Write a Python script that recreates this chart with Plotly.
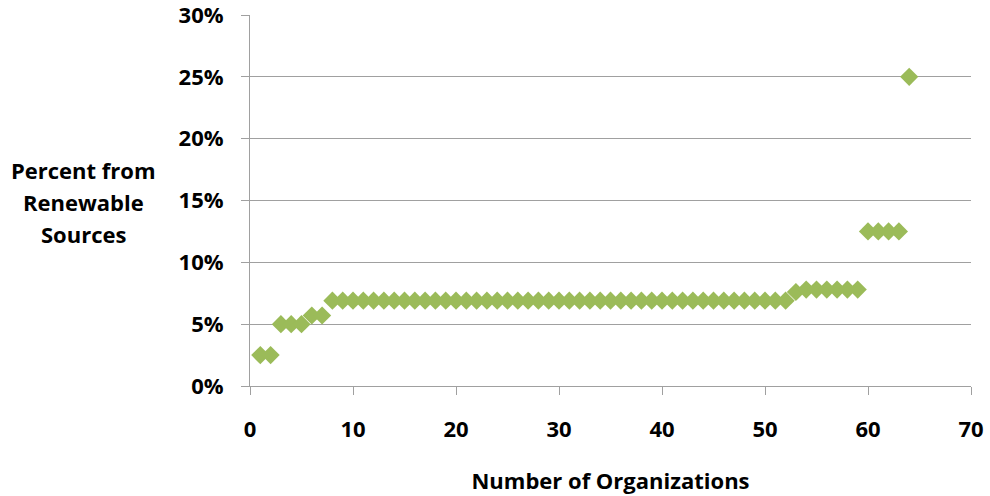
import plotly.graph_objects as go

organizations = list(range(1, 65))
percent_renewable = (
    [0.025, 0.025]
    + [0.05, 0.05, 0.05]
    + [0.057, 0.057]
    + [0.069] * 45
    + [0.076]
    + [0.078] * 6
    + [0.125] * 4
    + [0.25]
)
y_tick_vals = [0, 0.05, 0.10, 0.15, 0.20, 0.25, 0.30]
x_tick_vals = [0, 10, 20, 30, 40, 50, 60, 70]
y_title_lines = ["Percent from", "Renewable", "Sources"]
x_title = "Number of Organizations"

FONT = "Open Sans"
FS = 22
GRID = "#A0A0A0"

fig = go.Figure()
fig.add_trace(go.Scatter(
    x=organizations, y=percent_renewable, mode="markers",
    marker=dict(symbol="diamond", size=14, color="#9BBB59", line=dict(width=0)),
    showlegend=False, hoverinfo="skip", cliponaxis=False,
))

fig.update_layout(
    width=990, height=496,
    margin=dict(l=250, r=19, t=15, b=110),
    paper_bgcolor="white", plot_bgcolor="white",
    font=dict(family=FONT, size=FS, color="#000000"),
    xaxis=dict(
        range=[0, 70], tickvals=x_tick_vals, showgrid=False, zeroline=False,
        showline=True, linecolor=GRID, linewidth=1, automargin=False,
        ticks="outside", ticklen=8, tickcolor=GRID, tickwidth=1,
        ticklabelstandoff=16, ticklabeloverflow="allow",
        tickfont=dict(family=FONT, size=FS, weight="bold"),
        title=dict(text=x_title, font=dict(family=FONT, size=FS, weight="bold"), standoff=31),
    ),
    yaxis=dict(
        range=[0, 0.30], tickvals=y_tick_vals, tickformat=".0%",
        showgrid=True, gridcolor=GRID, gridwidth=1, zeroline=False,
        showline=True, linecolor=GRID, linewidth=1, automargin=False,
        ticks="outside", ticklen=8, tickcolor=GRID, tickwidth=1,
        ticklabelstandoff=13, ticklabeloverflow="allow",
        tickfont=dict(family=FONT, size=FS, weight="bold"),
    ),
)

line_y = [170, 202, 234]
for txt, py in zip(y_title_lines, line_y):
    fig.add_annotation(
        text=txt, xref="paper", yref="paper",
        x=(83 - 250) / 721, y=(386 - py) / 371,
        showarrow=False, xanchor="center", yanchor="middle",
        font=dict(family=FONT, size=FS, weight="bold"),
    )

# remove the browser's default 8px body margin so the figure fills the window
fig.write_html(
    "out.html",
    config={"displayModeBar": False},
    post_script="document.body.style.margin='0';",
)
